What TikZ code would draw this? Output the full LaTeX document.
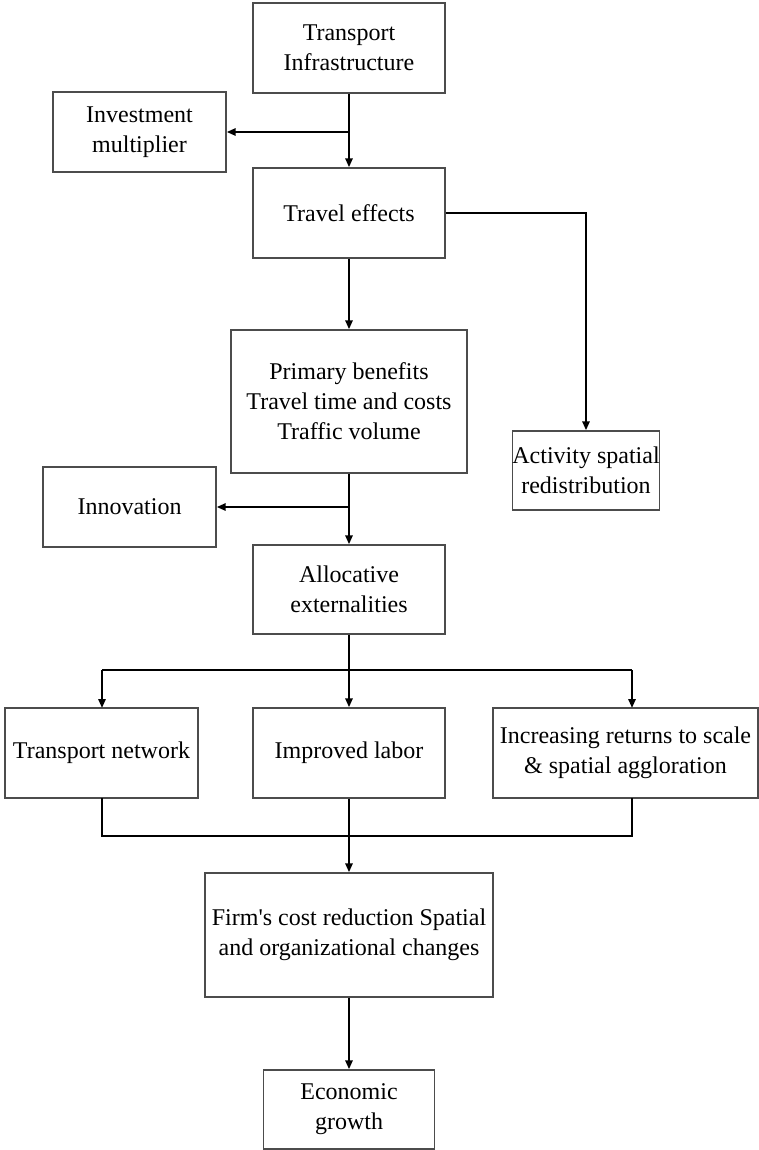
\documentclass[tikz,border=0pt]{standalone}
\usepackage{fontspec}
\setmainfont{Liberation Serif}[Ligatures=TeXOff]
\usetikzlibrary{arrows.meta}
\begin{document}
\begin{tikzpicture}[x=0.5pt,y=-0.5pt,
 box/.style={draw=black!70, line width=0.7pt, align=center, inner sep=0pt, font=\fontsize{12}{15}\selectfont},
 conn/.style={line width=1.1pt, draw=black},
 arr/.style={conn, -{Triangle[length=4.5pt,width=3.6pt]}}]
\useasboundingbox (0,0) rectangle (759,1150);
\node[box, minimum width=96pt, minimum height=45pt] (ti) at (349,48) {Transport\\Infrastructure};
\node[box, minimum width=86.5pt, minimum height=40pt] (inv) at (139.5,132) {Investment\\multiplier};
\node[box, minimum width=96pt, minimum height=45pt] (te) at (349,213) {Travel effects};
\node[box, minimum width=118pt, minimum height=71.5pt] (pb) at (349,401.5) {Primary benefits\\Travel time and costs\\Traffic volume};
\node[box, minimum width=72pt, minimum height=39.5pt] (asr) at (586,470.5) {Activity spatial\\redistribution};
\node[box, minimum width=86.5pt, minimum height=40pt] (inn) at (129.5,507) {Innovation};
\node[box, minimum width=96pt, minimum height=44.5pt] (ae) at (349,589.5) {Allocative\\externalities};
\node[box, minimum width=96.5pt, minimum height=45pt] (tn) at (101.5,753) {Transport network};
\node[box, minimum width=96pt, minimum height=45pt] (il) at (349,753) {Improved labor};
\node[box, minimum width=132.5pt, minimum height=45pt] (ir) at (625.5,753) {Increasing returns to scale\\\&~spatial aggloration};
\node[box, minimum width=144pt, minimum height=62pt] (firm) at (349,935) {Firm's cost reduction Spatial\\and organizational changes};
\node[box, minimum width=85.5pt, minimum height=39.5pt] (eg) at (349,1109.5) {Economic\\growth};
\coordinate (split) at (349,670);
\coordinate (merge) at (349,836);
\coordinate (irin) at (632,708);
\coordinate (irout) at (632,798);
\coordinate (tnx) at (102,708);
\coordinate (tnxo) at (102,798);
\draw[arr] (ti.south) -- (te.north);
\draw[arr] (ti.south |- inv.east) -- (inv.east);
\draw[arr] (te.east) -| (asr.north);
\draw[arr] (te.south) -- (pb.north);
\draw[arr] (pb.south) -- (ae.north);
\draw[arr] (pb.south |- inn.east) -- (inn.east);
\draw[conn] (ae.south) -- (split);
\draw[conn] (tnx |- split) -- (irin |- split);
\draw[arr] (split) -- (il.north);
\draw[arr] (tnx |- split) -- (tnx);
\draw[arr] (irin |- split) -- (irin);
\draw[conn] (tnxo) -- (tnxo |- merge) -- (irout |- merge) -- (irout);
\draw[conn] (il.south) -- (merge);
\draw[arr] (merge) -- (firm.north);
\draw[arr] (firm.south) -- (eg.north);
\end{tikzpicture}
\end{document}
